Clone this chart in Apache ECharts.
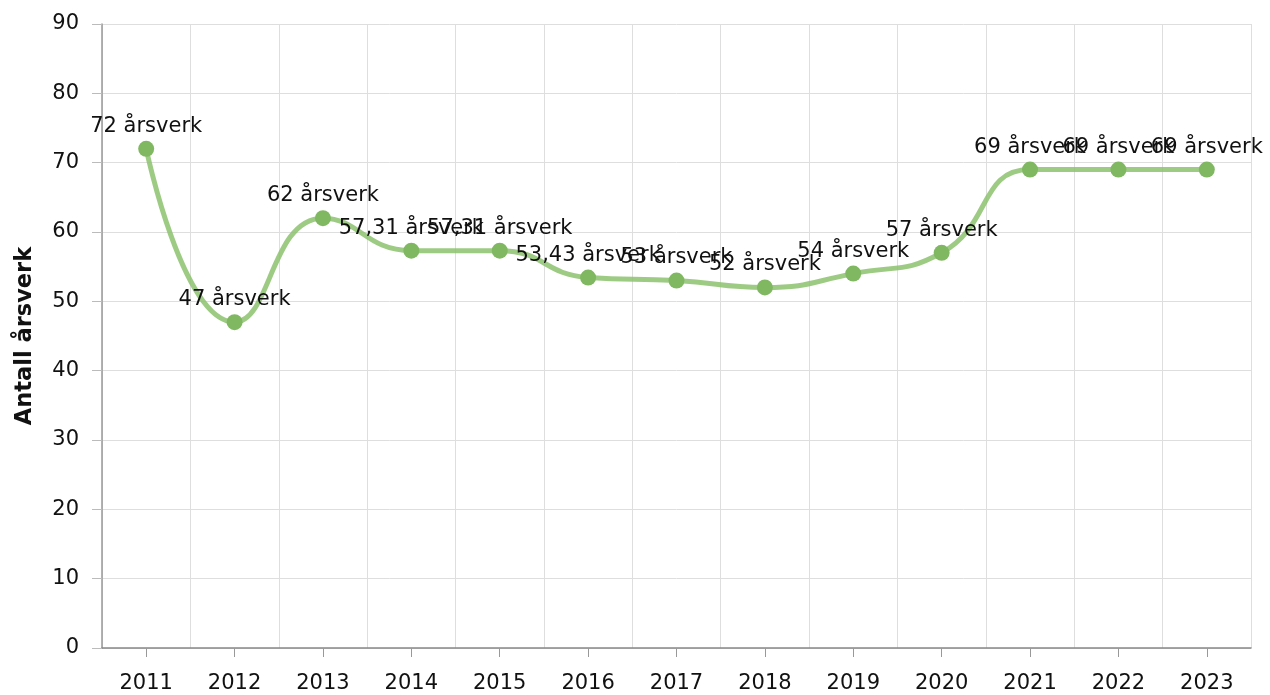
<!DOCTYPE html>
<html>
<head>
<meta charset="utf-8">
<script src="https://cdn.jsdelivr.net/npm/echarts@6/dist/echarts.min.js"></script>
<style>
  html, body { margin: 0; padding: 0; background: #fff; }
  #chart { width: 1270px; height: 695px; }
</style>
</head>
<body>
<div id="chart"></div>
<script>
const years = ['2011', '2012', '2013', '2014', '2015', '2016', '2017', '2018', '2019', '2020', '2021', '2022', '2023']
const arsverk = [72, 47, 62, 57.31, 57.31, 53.43, 53, 52, 54, 57, 69, 69, 69]
const yTicks = { min: 0, max: 90, interval: 10 }

const chart = echarts.init(document.getElementById('chart'))
const font = 'DejaVu Sans, Verdana, sans-serif'

chart.setOption({
  animation: false,
  grid: { left: 102, right: 19, top: 24, bottom: 47 },
  xAxis: {
    type: 'category',
    data: years,
    boundaryGap: true,
    axisLine: { lineStyle: { color: '#888', width: 1.5 } },
    axisTick: { show: true, alignWithLabel: true, length: 9, lineStyle: { color: '#999' } },
    axisLabel: { color: '#111', fontSize: 21, fontFamily: font, margin: 25 },
    splitLine: { show: true, lineStyle: { color: '#dedede', width: 1 } }
  },
  yAxis: {
    type: 'value',
    min: yTicks.min,
    max: yTicks.max,
    interval: yTicks.interval,
    name: 'Antall årsverk',
    nameLocation: 'middle',
    nameGap: 65,
    nameTextStyle: { color: '#111', fontSize: 22.5, fontWeight: 'bold', fontFamily: font },
    axisLine: { show: true, lineStyle: { color: '#999', width: 1.5 } },
    axisTick: { show: true, length: 10, lineStyle: { color: '#bbb' } },
    axisLabel: { color: '#111', fontSize: 21, fontFamily: font, margin: 23 },
    splitLine: { show: true, lineStyle: { color: '#dedede', width: 1 } }
  },
  series: [{
    type: 'line',
    data: arsverk,
    smooth: 0.5,
    symbol: 'circle',
    symbolSize: 16,
    itemStyle: { color: '#80b862' },
    lineStyle: { color: 'rgba(140, 194, 110, 0.85)', width: 5 },
    z: 3,
    label: {
      show: true,
      position: 'top',
      distance: 4,
      color: '#111',
      fontSize: 21,
      fontFamily: font,
      formatter: (p) => String(p.value).replace('.', ',') + ' årsverk'
    },
    labelLayout: { hideOverlap: false }
  }]
})
</script>
</body>
</html>
